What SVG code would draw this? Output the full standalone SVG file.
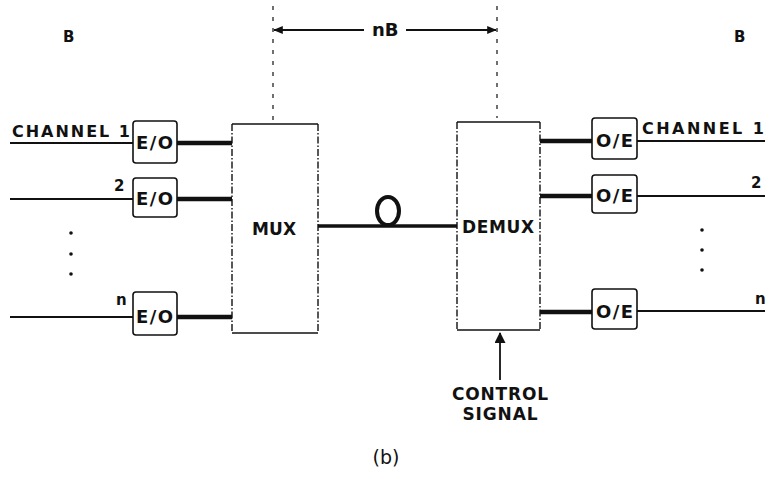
<svg xmlns="http://www.w3.org/2000/svg" width="770" height="479" viewBox="0 0 770 479">
<style>
text{font-family:"DejaVu Sans","Liberation Sans",Arial,sans-serif;font-weight:bold;fill:#111}
.lbl{font-size:15px}
.ch{font-size:16px}
.big{font-size:17px}
.io{font-size:18px}
.box{fill:none;stroke:#111;stroke-width:1.6}
.side{fill:none;stroke:#111;stroke-width:1.4;stroke-dasharray:7 2 1.5 2}
.thin{stroke:#111;stroke-width:1.8;fill:none}
.thick{stroke:#111;stroke-width:4.5;fill:none}
.dash{stroke:#111;stroke-width:1.2;stroke-dasharray:4 7;fill:none}
</style>
<defs>
<marker id="ah" viewBox="0 0 12 10" refX="11" refY="5" markerWidth="13" markerHeight="8" markerUnits="userSpaceOnUse" orient="auto">
<path d="M0,0 L12,5 L0,10 z" fill="#111"/>
</marker>
<marker id="ah2" viewBox="0 0 10 10" refX="9" refY="5" markerWidth="16" markerHeight="11" markerUnits="userSpaceOnUse" orient="auto">
<path d="M0,0 L10,5 L0,10 z" fill="#111"/>
</marker>
</defs>

<g id="labels">
<text class="lbl" x="63" y="42">B</text>
<text class="lbl" x="734" y="42">B</text>
<text x="372" y="36" style="font-size:18px">nB</text>
</g>

<g id="connectors">
<line class="dash" x1="273" y1="6" x2="273" y2="120"/>
<line class="dash" x1="497" y1="6" x2="497" y2="118"/>
<line class="thin" x1="364" y1="30" x2="274" y2="30" marker-end="url(#ah)"/>
<line class="thin" x1="406" y1="30" x2="496" y2="30" marker-end="url(#ah)"/>
<line class="thin" x1="10" y1="143" x2="133" y2="143"/>
<line class="thin" x1="10" y1="199" x2="133" y2="199"/>
<line class="thin" x1="10" y1="317" x2="133" y2="317"/>
<line class="thick" x1="177" y1="143" x2="232" y2="143"/>
<line class="thick" x1="177" y1="199" x2="232" y2="199"/>
<line class="thick" x1="177" y1="317" x2="232" y2="317"/>
<line class="thick" x1="318" y1="226" x2="457" y2="226" style="stroke-width:3.5"/>
<ellipse cx="388" cy="211" rx="11" ry="14" fill="none" stroke="#111" stroke-width="4"/>
<line class="thick" x1="540" y1="141" x2="592" y2="141"/>
<line class="thick" x1="540" y1="196" x2="592" y2="196"/>
<line class="thick" x1="540" y1="312" x2="592" y2="312"/>
<line class="thin" x1="637" y1="141" x2="765" y2="141"/>
<line class="thin" x1="637" y1="196" x2="765" y2="196"/>
<line class="thin" x1="637" y1="311" x2="765" y2="311"/>
<line class="thin" x1="500" y1="380" x2="500" y2="333" marker-end="url(#ah2)"/>
</g>

<g id="left-text">
<text class="ch" x="12" y="137" textLength="118">CHANNEL 1</text>
<text class="lbl" x="114" y="191">2</text>
<text class="lbl" x="116" y="305">n</text>
<circle cx="71" cy="233" r="1.8" fill="#111"/>
<circle cx="71" cy="254" r="1.8" fill="#111"/>
<circle cx="71" cy="274" r="1.8" fill="#111"/>
</g>

<g id="eo1"><rect class="box" x="133" y="121" width="44" height="42" rx="3"/><text class="io" x="136" y="149" textLength="37">E/O</text></g>
<g id="eo2"><rect class="box" x="133" y="178" width="44" height="39" rx="3"/><text class="io" x="136" y="205" textLength="37">E/O</text></g>
<g id="eon"><rect class="box" x="133" y="292" width="44" height="43" rx="3"/><text class="io" x="136" y="323" textLength="37">E/O</text></g>

<g id="mux">
<line class="box" x1="232" y1="124" x2="318" y2="124"/>
<line class="box" x1="232" y1="333" x2="318" y2="333"/>
<line class="side" x1="232" y1="124" x2="232" y2="333"/>
<line class="side" x1="318" y1="124" x2="318" y2="333"/>
<text class="big" x="252" y="235" textLength="44">MUX</text>
</g>

<g id="demux">
<line class="box" x1="457" y1="122" x2="540" y2="122"/>
<line class="box" x1="457" y1="330" x2="540" y2="330"/>
<line class="side" x1="457" y1="122" x2="457" y2="330"/>
<line class="side" x1="540" y1="122" x2="540" y2="330"/>
<text class="big" x="462" y="233" textLength="72">DEMUX</text>
</g>

<g id="oe1"><rect class="box" x="592" y="118" width="45" height="41" rx="3"/><text class="io" x="596" y="147" textLength="37">O/E</text></g>
<g id="oe2"><rect class="box" x="592" y="175" width="45" height="38" rx="3"/><text class="io" x="596" y="202" textLength="37">O/E</text></g>
<g id="oen"><rect class="box" x="592" y="289" width="45" height="40" rx="3"/><text class="io" x="596" y="318" textLength="37">O/E</text></g>

<g id="right-text">
<text class="ch" x="642" y="134" textLength="122">CHANNEL 1</text>
<text class="lbl" x="751" y="188">2</text>
<text class="lbl" x="755" y="304">n</text>
<circle cx="702" cy="230" r="1.8" fill="#111"/>
<circle cx="702" cy="250" r="1.8" fill="#111"/>
<circle cx="702" cy="270" r="1.8" fill="#111"/>
</g>

<g id="control">
<text x="500" y="400" text-anchor="middle" textLength="96" style="font-size:17px">CONTROL</text>
<text x="500" y="420" text-anchor="middle" textLength="75" style="font-size:17px">SIGNAL</text>
</g>

<text x="386" y="464" text-anchor="middle" style="font-size:19px;font-weight:normal">(b)</text>
</svg>
